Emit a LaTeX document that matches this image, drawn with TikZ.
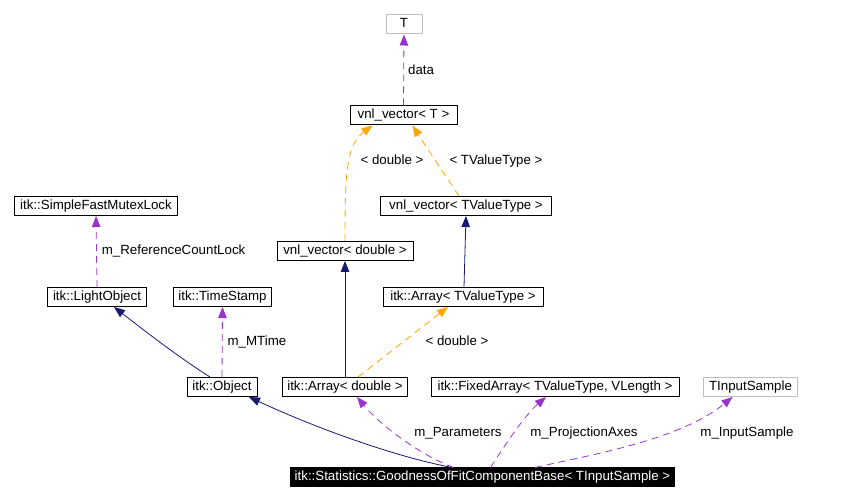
\documentclass[tikz,border=0pt]{standalone}
\usepackage{fontspec}
\setmainfont{Liberation Sans}
\usetikzlibrary{arrows.meta,calc}
\definecolor{navyc}{HTML}{191970}
\definecolor{purplec}{HTML}{9A32CD}
\definecolor{orangec}{HTML}{FFA500}
\definecolor{grayc}{HTML}{BFBFBF}
\begin{document}
\begin{tikzpicture}[x=1pt,y=-1pt,
  every node/.style={font=\fontsize{13.3}{16}\selectfont},
  cls/.style={draw=black,line width=1pt,minimum height=19pt,inner xsep=4pt,inner ysep=0pt,text height=9.8pt,text depth=2.8pt},
  ext/.style={cls,draw=grayc},
  mainc/.style={cls,fill=black,text=white},
  lbl/.style={inner sep=1pt,text=black,text height=9.8pt,text depth=2.8pt},
  tip/.style={-{Triangle[length=11pt,width=8.5pt]}},
  inh/.style={tip,navyc,line width=0.8pt},
  usage/.style={tip,purplec,line width=0.8pt,dash pattern=on 7pt off 5pt},
  tmpl/.style={tip,orangec,line width=0.8pt,dash pattern=on 7pt off 5pt}]
\useasboundingbox (0,0) rectangle (868,502);

% nodes
\node[ext,minimum width=36pt]  (T)   at (404,24.5) {T};
\node[cls,minimum width=107pt] (vT)  at (403.5,115.5) {vnl\_vector< T >};
\node[cls,minimum width=171pt] (vTV) at (466,206) {vnl\_vector< TValueType >};
\node[cls,minimum width=136pt] (vd)  at (345,251) {vnl\_vector< double >};
\node[cls,minimum width=160pt] (aTV) at (463,297) {itk::Array< TValueType >};
\node[cls,minimum width=163pt] (sfm) at (96,206) {itk::SimpleFastMutexLock};
\node[cls,minimum width=99pt]  (lo)  at (97,297) {itk::LightObject};
\node[cls,minimum width=98pt]  (ts)  at (222.5,297) {itk::TimeStamp};
\node[cls,minimum width=70pt]  (obj) at (222,387) {itk::Object};
\node[cls,minimum width=125pt] (ad)  at (345,387) {itk::Array< double >};
\node[cls,minimum width=248pt] (fa)  at (555,387) {itk::FixedArray< TValueType, VLength >};
\node[ext,minimum width=94pt]  (tis) at (750.5,387) {TInputSample};
\node[mainc,minimum width=383pt] (gm) at (482.5,477.5) {itk::Statistics::GoodnessOfFitComponentBase< TInputSample >};

% edges
\draw[usage] (vT.north) -- node[lbl,right=3pt,pos=0.48] {data} (T.south);
\draw[tmpl] (vd.north) .. controls (345,175) and (346,145) .. ($(vT.south)+(-31,0)$);
\draw[tmpl] ($(vTV.north)+(-7,0)$) .. controls (445,175) and (425,145) .. ($(vT.south)+(9,0)$);
\node[lbl] at (392,161) {< double >};
\node[lbl] at (496,161) {< TValueType >};
\draw[inh] ($(aTV.north)+(1,0)$) -- ($(vTV.south)+(0,0)$);
\draw[inh] (ad.north) -- (vd.south);
\draw[tmpl] ($(ad.north)+(13,0)$) -- ($(aTV.south)+(-15,0)$);
\node[lbl] at (457,342) {< double >};
\draw[usage] (lo.north) -- node[lbl,right=4pt,pos=0.5] {m\_ReferenceCountLock} (sfm.south);
\draw[inh] ($(obj.north)+(-12,0)$) .. controls (180,358) and (150,335) .. ($(lo.south)+(17,0)$);
\draw[usage] (obj.north) -- node[lbl,right=4pt,pos=0.5] {m\_MTime} (ts.south);
\draw[inh] ($(gm.north)+(-30,0)$) .. controls (400,458) and (320,430) .. ($(obj.south)+(27,0)$);
\draw[usage] ($(gm.north)+(-29,0)$) .. controls (420,455) and (380,425) .. ($(ad.south)+(12,0)$);
\node[lbl] at (458,433) {m\_Parameters};
\draw[usage] ($(gm.north)+(8,0)$) .. controls (505,445) and (525,415) .. ($(fa.south)+(-9,0)$);
\node[lbl] at (584,433) {m\_ProjectionAxes};
\draw[usage] ($(gm.north)+(52.5,0)$) .. controls (590,455) and (680,440) .. ($(tis.south)+(-18,0)$);
\node[lbl] at (747,433) {m\_InputSample};
\end{tikzpicture}
\end{document}
